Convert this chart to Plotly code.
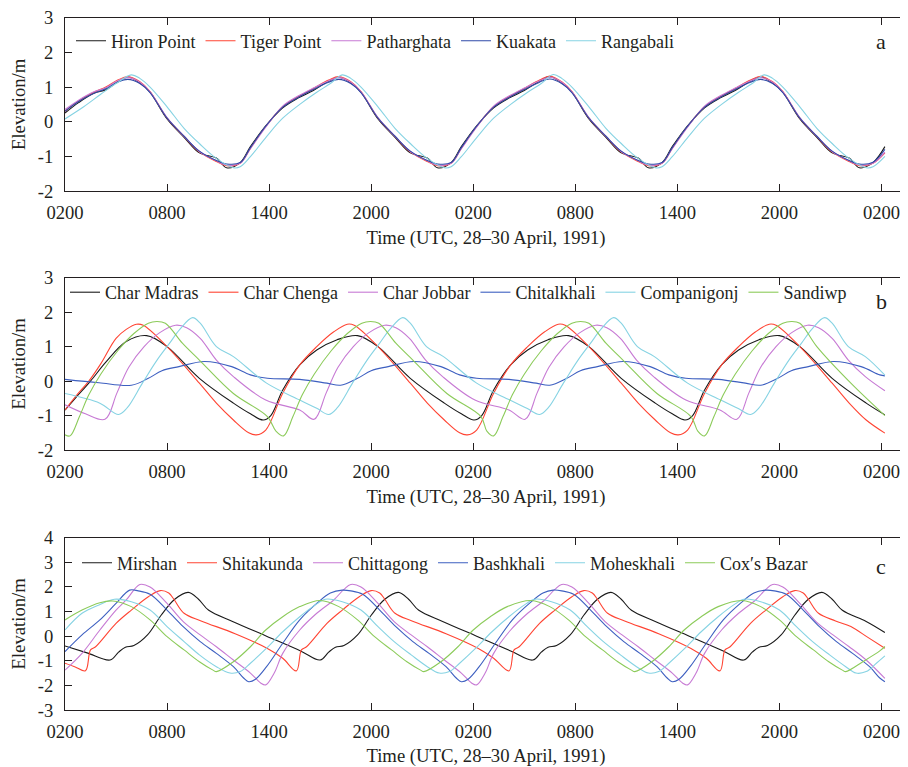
import plotly.graph_objects as go

# ---------------- data (time in hours after 02:00 UTC, 28 April 1991; elevation in m) ----------------
TICK_HOURS = [0, 6, 12, 18, 24, 30, 36, 42, 48]
TICK_TEXT = ["0200", "0800", "1400", "2000", "0200", "0800", "1400", "2000", "0200"]

# panel a — shared sampling times for four stations
T_A = [0, 0.8, 1.7, 2.4, 3.1, 3.7,
       4.4, 5.0, 6.0, 7.0, 7.9, 8.9, 9.5, 10.3, 10.9, 11.8, 12.8, 13.7, 14.6, 15.5, 16.1,
       16.8, 17.4, 18.4, 19.4, 20.3, 21.3, 21.9, 22.7, 23.3, 24.2, 25.2, 26.1, 27.0, 27.9, 28.5,
       29.2, 29.8, 30.8, 31.8, 32.7, 33.7, 34.3, 35.1, 35.7, 36.6, 37.6, 38.5, 39.4, 40.3, 40.9,
       41.6, 42.2, 43.2, 44.2, 45.1, 46.1, 46.7, 47.5, 48.2]
HIRON = [0.25, 0.55, 0.82, 0.92, 1.15, 1.28,
         1.12, 0.85, 0.08, -0.45, -0.9, -1.05, -1.33, -1.18, -0.72, -0.12, 0.4, 0.68, 0.9, 1.17, 1.28,
         1.12, 0.85, 0.08, -0.45, -0.9, -1.05, -1.33, -1.18, -0.72, -0.12, 0.4, 0.68, 0.9, 1.17, 1.3,
         1.12, 0.85, 0.08, -0.45, -0.9, -1.05, -1.33, -1.18, -0.72, -0.12, 0.4, 0.68, 0.9, 1.17, 1.29,
         1.12, 0.85, 0.08, -0.45, -0.9, -1.05, -1.33, -1.18, -0.72]
TIGER = [0.3, 0.6, 0.85, 1.0, 1.2, 1.3,
         1.15, 0.87, 0.1, -0.43, -0.87, -1.15, -1.27, -1.2, -0.77, -0.14, 0.43, 0.72, 0.96, 1.2, 1.3,
         1.15, 0.87, 0.1, -0.43, -0.87, -1.15, -1.27, -1.2, -0.77, -0.14, 0.43, 0.72, 0.96, 1.2, 1.32,
         1.15, 0.87, 0.1, -0.43, -0.87, -1.15, -1.27, -1.2, -0.77, -0.14, 0.43, 0.72, 0.96, 1.2, 1.31,
         1.15, 0.87, 0.1, -0.43, -0.87, -1.15, -1.27, -1.2, -0.9]
PATHARGHATA = [0.35, 0.62, 0.86, 0.98, 1.18, 1.27,
               1.14, 0.86, 0.12, -0.42, -0.86, -1.13, -1.25, -1.2, -0.78, -0.16, 0.45, 0.74, 0.97, 1.18, 1.27,
               1.14, 0.86, 0.12, -0.42, -0.86, -1.13, -1.25, -1.2, -0.78, -0.16, 0.45, 0.74, 0.97, 1.18, 1.28,
               1.14, 0.86, 0.12, -0.42, -0.86, -1.13, -1.25, -1.2, -0.78, -0.16, 0.45, 0.74, 0.97, 1.18, 1.27,
               1.14, 0.86, 0.12, -0.42, -0.86, -1.13, -1.25, -1.2, -0.88]
KUAKATA = [0.3, 0.58, 0.82, 0.95, 1.14, 1.22,
           1.1, 0.84, 0.1, -0.42, -0.85, -1.12, -1.22, -1.18, -0.75, -0.13, 0.42, 0.7, 0.93, 1.14, 1.22,
           1.1, 0.84, 0.1, -0.42, -0.85, -1.12, -1.22, -1.18, -0.75, -0.13, 0.42, 0.7, 0.93, 1.14, 1.23,
           1.1, 0.84, 0.1, -0.42, -0.85, -1.12, -1.22, -1.18, -0.75, -0.13, 0.42, 0.7, 0.93, 1.14, 1.22,
           1.1, 0.84, 0.1, -0.42, -0.85, -1.12, -1.22, -1.17, -0.8]
RANGABALI_T = [0, 1.1, 2.1, 3.0, 3.9,
               4.4, 5.0, 6.0, 7.0, 7.9, 8.9, 9.9, 10.3, 10.9, 11.85, 12.8, 13.8, 14.8, 15.6, 16.3,
               16.8, 17.4, 18.4, 19.4, 20.3, 21.3, 22.3, 22.7, 23.3, 24.25, 25.2, 26.2, 27.2, 28.0, 28.7,
               29.2, 29.8, 30.8, 31.8, 32.7, 33.7, 34.7, 35.1, 35.7, 36.65, 37.6, 38.6, 39.6, 40.4, 41.1,
               41.6, 42.2, 43.2, 44.2, 45.1, 46.1, 47.1, 47.5, 48.2]
RANGABALI = [0.08, 0.43, 0.79, 1.1, 1.35,
             1.25, 1.0, 0.43, -0.19, -0.63, -1.06, -1.33, -1.3, -1.01, -0.43, 0.1, 0.5, 0.85, 1.1, 1.35,
             1.25, 1.0, 0.43, -0.19, -0.63, -1.06, -1.33, -1.3, -1.01, -0.43, 0.1, 0.5, 0.85, 1.1, 1.36,
             1.25, 1.0, 0.43, -0.19, -0.63, -1.06, -1.33, -1.3, -1.01, -0.43, 0.1, 0.5, 0.85, 1.1, 1.35,
             1.25, 1.0, 0.43, -0.19, -0.63, -1.06, -1.33, -1.3, -1.0]

# panel b
MADRAS_T = [0, 0.6, 1.5, 2.4, 3.6, 4.8,
            6.0, 7.9, 9.9, 10.9, 11.65, 12.1, 12.8, 13.8, 14.8, 16.0, 17.2,
            18.4, 20.3, 22.3, 23.3, 24.05, 24.5, 25.2, 26.2, 27.2, 28.4, 29.6,
            30.8, 32.7, 34.7, 35.7, 36.45, 36.9, 37.6, 38.6, 39.6, 40.8, 42.0,
            43.2, 45.1, 47.1, 48.2]
MADRAS = [-0.84, -0.5, 0.0, 0.55, 1.15, 1.32,
          1.0, 0.08, -0.64, -0.95, -1.13, -1.0, -0.26, 0.47, 0.9, 1.2, 1.32,
          1.0, 0.08, -0.64, -0.95, -1.13, -1.0, -0.26, 0.47, 0.9, 1.2, 1.32,
          1.0, 0.08, -0.64, -0.95, -1.13, -1.0, -0.26, 0.47, 0.9, 1.2, 1.32,
          1.0, 0.08, -0.64, -0.98]
CHENGA_T = [0, 0.7, 1.4, 2.1, 3.0, 3.6, 4.2,
            4.6, 6.0, 7.9, 8.9, 9.9, 10.8, 11.25, 11.8, 12.8, 13.8, 14.8, 15.8, 16.6,
            17.0, 18.4, 20.3, 21.3, 22.3, 23.2, 23.65, 24.2, 25.2, 26.2, 27.2, 28.2, 29.0,
            29.4, 30.8, 32.7, 33.7, 34.7, 35.6, 36.05, 36.6, 37.6, 38.6, 39.6, 40.6, 41.4,
            41.8, 43.2, 45.1, 46.1, 47.1, 48.2]
CHENGA = [-0.84, -0.4, 0.0, 0.5, 1.24, 1.5, 1.65,
          1.62, 1.0, -0.06, -0.64, -1.13, -1.5, -1.56, -1.42, -0.35, 0.47, 1.0, 1.43, 1.65,
          1.62, 1.0, -0.06, -0.64, -1.13, -1.5, -1.56, -1.42, -0.35, 0.47, 1.0, 1.43, 1.65,
          1.62, 1.0, -0.06, -0.64, -1.13, -1.5, -1.56, -1.42, -0.35, 0.47, 1.0, 1.43, 1.65,
          1.62, 1.0, -0.06, -0.64, -1.13, -1.51]
JOBBAR_T = [0, 1.2,
            2.35, 3.05, 3.75, 4.65, 5.55, 6.5, 7.15, 7.95, 8.9, 9.9, 11.8, 13.8,
            14.65, 15.35, 16.05, 16.95, 17.85, 18.8, 19.45, 20.25, 21.2, 22.2, 24.1, 26.1,
            27.05, 27.75, 28.45, 29.35, 30.25, 31.2, 31.85, 32.65, 33.6, 34.6, 36.5, 38.5,
            39.5, 40.2, 40.9, 41.8, 42.7, 43.65, 44.3, 45.1, 46.05, 47.05, 48.2]
JOBBAR = [-0.69, -0.95,
          -1.11, -0.35, 0.4, 1.0, 1.4, 1.62, 1.55, 1.24, 0.61, 0.13, -0.55, -0.84,
          -1.11, -0.35, 0.4, 1.0, 1.4, 1.62, 1.55, 1.24, 0.61, 0.13, -0.55, -0.84,
          -1.11, -0.35, 0.4, 1.0, 1.4, 1.62, 1.55, 1.24, 0.61, 0.13, -0.55, -0.84,
          -1.11, -0.35, 0.4, 1.0, 1.4, 1.62, 1.55, 1.24, 0.61, 0.13, -0.28]
CHITAL_T = [0, 2.0,
            3.9, 4.9, 5.7, 6.7, 8.2, 9.8, 10.9, 11.9, 13.8, 15.4,
            16.2, 17.2, 18.0, 19.0, 20.5, 22.1, 23.2, 24.2, 26.1, 27.7,
            28.5, 29.5, 30.3, 31.3, 32.8, 34.4, 35.5, 36.5, 38.4, 40.0,
            40.9, 41.9, 42.7, 43.7, 45.2, 46.8, 47.9, 48.2]
CHITAL = [0.05, -0.05,
          -0.12, 0.08, 0.3, 0.42, 0.57, 0.42, 0.18, 0.08, 0.05, -0.06,
          -0.12, 0.08, 0.3, 0.42, 0.57, 0.42, 0.18, 0.08, 0.05, -0.06,
          -0.12, 0.08, 0.3, 0.42, 0.57, 0.42, 0.18, 0.08, 0.05, -0.06,
          -0.12, 0.08, 0.3, 0.42, 0.57, 0.42, 0.18, 0.15]
COMPANI_T = [0, 2.05,
             3.15, 3.65, 4.55, 5.4, 6.15, 6.75, 7.5, 7.95, 8.9, 9.9, 11.85, 13.8, 14.8,
             15.5, 16.0, 16.9, 17.75, 18.5, 19.1, 19.85, 20.3, 21.25, 22.25, 24.2, 26.15, 27.15,
             27.9, 28.4, 29.3, 30.15, 30.9, 31.5, 32.25, 32.7, 33.65, 34.65, 36.6, 38.55, 39.55,
             40.3, 40.8, 41.7, 42.55, 43.3, 43.9, 44.65, 45.1, 46.05, 47.05, 48.2]
COMPANI = [-0.36, -0.64,
           -0.97, -0.78, -0.06, 0.6, 1.1, 1.5, 1.84, 1.68, 1.0, 0.71, -0.06, -0.55, -0.79,
           -0.97, -0.78, -0.06, 0.6, 1.1, 1.5, 1.84, 1.68, 1.0, 0.71, -0.06, -0.55, -0.79,
           -0.97, -0.78, -0.06, 0.6, 1.1, 1.5, 1.84, 1.68, 1.0, 0.71, -0.06, -0.55, -0.79,
           -0.97, -0.78, -0.06, 0.6, 1.1, 1.5, 1.84, 1.68, 1.0, 0.71, 0.17]
SANDIWP_T = [0,
             0.3, 0.85, 1.4, 2.1, 3.1, 4.05, 4.9, 5.4, 5.9, 6.9, 7.9, 9.9, 11.9, 12.4,
             12.85, 13.4, 13.95, 14.65, 15.65, 16.6, 17.45, 17.95, 18.45, 19.45, 20.45, 22.45, 24.45, 24.8,
             25.2, 25.75, 26.3, 27.0, 28.0, 28.95, 29.8, 30.3, 30.8, 31.8, 32.8, 34.8, 36.8, 37.2,
             37.6, 38.15, 38.7, 39.4, 40.4, 41.35, 42.2, 42.7, 43.2, 44.2, 46.2, 48.2]
SANDIWP = [-1.56,
           -1.59, -1.03, -0.4, 0.2, 0.88, 1.38, 1.68, 1.73, 1.68, 1.1, 0.61, -0.36, -1.03, -1.45,
           -1.59, -1.03, -0.4, 0.2, 0.88, 1.38, 1.68, 1.73, 1.68, 1.1, 0.61, -0.36, -1.03, -1.45,
           -1.59, -1.03, -0.4, 0.2, 0.88, 1.38, 1.68, 1.73, 1.68, 1.1, 0.61, -0.36, -1.03, -1.45,
           -1.59, -1.03, -0.4, 0.2, 0.88, 1.38, 1.68, 1.73, 1.68, 1.0, -0.06, -1.0]

# panel c
MIRSHAN_T = [0, 1.3,
             2.65, 3.15, 3.55, 4.05, 4.85, 5.65, 6.45, 7.25, 7.85, 8.45, 9.85, 11.85, 13.85,
             15.0, 15.5, 15.9, 16.4, 17.2, 18.0, 18.8, 19.6, 20.2, 20.8, 22.2, 24.2, 26.2,
             27.5, 28.0, 28.4, 28.9, 29.7, 30.5, 31.3, 32.1, 32.7, 33.3, 34.7, 36.7, 38.7,
             39.9, 40.4, 40.8, 41.3, 42.1, 42.9, 43.7, 44.5, 45.1, 45.7, 47.1, 48.2]
MIRSHAN = [-0.4, -0.68,
           -0.97, -0.65, -0.45, -0.38, 0.05, 0.85, 1.5, 1.78, 1.5, 1.05, 0.6, 0.0, -0.6,
           -0.97, -0.65, -0.45, -0.38, 0.05, 0.85, 1.5, 1.78, 1.5, 1.05, 0.6, 0.0, -0.6,
           -0.97, -0.65, -0.45, -0.38, 0.05, 0.85, 1.5, 1.78, 1.5, 1.05, 0.6, 0.0, -0.6,
           -0.97, -0.65, -0.45, -0.38, 0.05, 0.85, 1.5, 1.78, 1.5, 1.05, 0.6, 0.15]
SHITAKUNDA_T = [0, 0.6,
                1.2, 1.5, 1.8, 3.0, 3.9, 4.9, 5.6, 6.1, 6.4, 7.0, 8.0, 10.0, 11.9, 12.8,
                13.6, 13.9, 14.2, 15.4, 16.3, 17.3, 18.0, 18.5, 18.8, 19.4, 20.4, 22.4, 24.3, 25.2,
                26.1, 26.4, 26.7, 27.9, 28.8, 29.8, 30.5, 31.0, 31.3, 31.9, 32.9, 34.9, 36.8, 37.7,
                38.5, 38.8, 39.1, 40.3, 41.2, 42.2, 42.9, 43.4, 43.7, 44.3, 45.3, 46.2, 47.2, 48.2]
SHITAKUNDA = [-1.1, -1.25,
              -1.41, -0.56, -0.43, 0.52, 1.06, 1.6, 1.85, 1.75, 1.5, 0.93, 0.62, 0.1, -0.5, -0.9,
              -1.41, -0.56, -0.43, 0.52, 1.06, 1.6, 1.85, 1.75, 1.5, 0.93, 0.62, 0.1, -0.5, -0.9,
              -1.41, -0.56, -0.43, 0.52, 1.06, 1.6, 1.85, 1.75, 1.5, 0.93, 0.62, 0.1, -0.5, -0.9,
              -1.41, -0.56, -0.43, 0.52, 1.06, 1.6, 1.85, 1.75, 1.5, 0.93, 0.62, 0.39, -0.05, -0.49]
CHITTAGONG_T = [0, 1.0, 2.05, 3.0, 3.6,
                4.4, 5.0, 6.0, 6.95, 7.95, 8.9, 9.9, 10.9, 11.5, 11.8, 12.3, 12.8, 13.8, 14.8, 15.8, 16.4,
                16.8, 17.4, 18.4, 19.35, 20.35, 21.3, 22.3, 23.3, 23.9, 24.2, 24.7, 25.2, 26.2, 27.2, 28.2, 28.8,
                29.2, 29.8, 30.8, 31.75, 32.75, 33.7, 34.7, 35.7, 36.3, 36.6, 37.1, 37.6, 38.6, 39.6, 40.6, 41.2,
                41.6, 42.2, 43.2, 44.15, 45.15, 46.1, 47.1, 48.2]
CHITTAGONG = [-1.38, -0.7, 0.25, 1.06, 1.47,
              2.1, 2.0, 1.33, 0.59, 0.05, -0.43, -0.97, -1.5, -1.9, -1.98, -1.5, -0.7, 0.25, 0.93, 1.47, 1.9,
              2.1, 2.0, 1.33, 0.59, 0.05, -0.43, -0.97, -1.5, -1.9, -1.98, -1.5, -0.7, 0.25, 0.93, 1.47, 1.9,
              2.1, 2.0, 1.33, 0.59, 0.05, -0.43, -0.97, -1.5, -1.9, -1.98, -1.5, -0.7, 0.25, 0.93, 1.47, 1.9,
              2.1, 2.0, 1.33, 0.59, 0.05, -0.43, -0.97, -1.72]
BASHKHALI_T = [0, 1.0, 2.05, 3.0,
               3.8, 4.3, 5.0, 6.0, 6.95, 7.95, 8.9, 9.9, 10.5, 10.8, 11.2, 11.85, 12.8, 13.8, 14.8, 15.6,
               16.3, 16.8, 17.5, 18.5, 19.45, 20.45, 21.4, 22.4, 23.0, 23.3, 23.7, 24.35, 25.3, 26.3, 27.3, 28.1,
               28.7, 29.2, 29.9, 30.9, 31.85, 32.85, 33.8, 34.8, 35.4, 35.7, 36.1, 36.75, 37.7, 38.7, 39.7, 40.5,
               41.2, 41.7, 42.4, 43.4, 44.35, 45.35, 46.3, 47.3, 47.9, 48.2]
BASHKHALI = [-0.63, 0.05, 0.66, 1.33,
             1.87, 1.84, 1.7, 1.06, 0.39, -0.22, -0.7, -1.24, -1.7, -1.85, -1.75, -1.24, -0.29, 0.66, 1.33, 1.75,
             1.87, 1.84, 1.7, 1.06, 0.39, -0.22, -0.7, -1.24, -1.7, -1.85, -1.75, -1.24, -0.29, 0.66, 1.33, 1.75,
             1.87, 1.84, 1.7, 1.06, 0.39, -0.22, -0.7, -1.24, -1.7, -1.85, -1.75, -1.24, -0.29, 0.66, 1.33, 1.75,
             1.87, 1.84, 1.7, 1.06, 0.39, -0.22, -0.7, -1.24, -1.7, -1.85]
MOHESKHALI_T = [0, 1.0, 2.0, 2.9, 3.9, 5.0, 6.0, 7.0, 7.9, 8.9,
                9.7, 10.3, 10.9, 11.85, 12.8, 13.8, 14.8, 15.3, 16.3, 17.4, 18.4, 19.35, 20.35, 21.3,
                22.0, 22.6, 23.2, 24.15, 25.1, 26.1, 27.1, 27.6, 28.6, 29.7, 30.7, 31.65, 32.65, 33.6,
                34.3, 34.9, 35.5, 36.45, 37.4, 38.4, 39.4, 39.9, 40.9, 42.0, 43.0, 43.95, 44.95, 45.9,
                46.5, 47.1, 47.7, 48.2]
MOHESKHALI = [0.25, 0.93, 1.27, 1.5, 1.4, 1.06, 0.39, -0.22, -0.76, -1.24,
              -1.5, -1.44, -1.1, -0.49, 0.18, 0.79, 1.31, 1.5, 1.4, 1.06, 0.39, -0.22, -0.76, -1.24,
              -1.5, -1.44, -1.1, -0.49, 0.18, 0.79, 1.31, 1.5, 1.4, 1.06, 0.39, -0.22, -0.76, -1.24,
              -1.5, -1.44, -1.1, -0.49, 0.18, 0.79, 1.31, 1.5, 1.4, 1.06, 0.39, -0.22, -0.76, -1.24,
              -1.5, -1.44, -1.1, -0.8]
COXS_T = [0, 1.0, 2.05, 2.8,
          3.9, 5.0, 6.0, 7.0, 7.9, 8.7, 8.9, 9.9, 10.9, 11.8, 12.8, 13.8, 15.0,
          16.1, 17.2, 18.2, 19.2, 20.1, 20.9, 21.1, 22.1, 23.1, 24.0, 25.0, 26.0, 27.4,
          28.5, 29.6, 30.6, 31.6, 32.5, 33.3, 33.5, 34.5, 35.5, 36.4, 37.4, 38.4, 39.8,
          40.9, 42.0, 43.0, 44.0, 44.9, 45.7, 45.9, 46.9, 47.9, 48.2]
COXS = [0.66, 1.06, 1.36, 1.43,
        1.2, 0.66, -0.02, -0.56, -1.04, -1.38, -1.44, -1.04, -0.43, 0.25, 0.79, 1.2, 1.45,
        1.2, 0.66, -0.02, -0.56, -1.04, -1.38, -1.44, -1.04, -0.43, 0.25, 0.79, 1.2, 1.45,
        1.2, 0.66, -0.02, -0.56, -1.04, -1.38, -1.44, -1.04, -0.43, 0.25, 0.79, 1.2, 1.45,
        1.2, 0.66, -0.02, -0.56, -1.04, -1.38, -1.44, -1.04, -0.6, -0.42]

# ---------------- styling ----------------
FONT = "Liberation Serif"
TXT = "#231f20"
BLACK = "#1a1a1a"
RED = "#ff4433"
PURPLE = "#c77ad4"
BLUE = "#3d5fc0"
NAVY = "#2f4aa8"
CYAN = "#86d3e3"
GREEN = "#8ccb5a"
TICK_SIZE = 18.6
TITLE_SIZE = 18.7
LEGEND_SIZE = 18

# the page body has an 8 px margin, so the figure is sized to fill the rest of the window
OFF = 8
W, H = 908 - OFF, 767 - OFF
ML = 65 - OFF
MR = W - (907 - OFF)
PW = W - ML - MR
PANELS = [(17.7 - OFF, 191.0 - OFF), (277.7 - OFF, 450.0 - OFF), (537.7 - OFF, 710.0 - OFF)]

fig = go.Figure()

series = [
    ("Hiron Point", T_A, HIRON, BLACK, 1, "legend"),
    ("Tiger Point", T_A, TIGER, RED, 1, "legend"),
    ("Patharghata", T_A, PATHARGHATA, PURPLE, 1, "legend"),
    ("Kuakata", T_A, KUAKATA, NAVY, 1, "legend"),
    ("Rangabali", RANGABALI_T, RANGABALI, CYAN, 1, "legend"),
    ("Char Madras", MADRAS_T, MADRAS, BLACK, 2, "legend2"),
    ("Char Chenga", CHENGA_T, CHENGA, RED, 2, "legend2"),
    ("Char Jobbar", JOBBAR_T, JOBBAR, PURPLE, 2, "legend2"),
    ("Chitalkhali", CHITAL_T, CHITAL, BLUE, 2, "legend2"),
    ("Companigonj", COMPANI_T, COMPANI, CYAN, 2, "legend2"),
    ("Sandiwp", SANDIWP_T, SANDIWP, GREEN, 2, "legend2"),
    ("Mirshan", MIRSHAN_T, MIRSHAN, BLACK, 3, "legend3"),
    ("Shitakunda", SHITAKUNDA_T, SHITAKUNDA, RED, 3, "legend3"),
    ("Chittagong", CHITTAGONG_T, CHITTAGONG, PURPLE, 3, "legend3"),
    ("Bashkhali", BASHKHALI_T, BASHKHALI, BLUE, 3, "legend3"),
    ("Moheskhali", MOHESKHALI_T, MOHESKHALI, CYAN, 3, "legend3"),
    ("Cox\u2032s Bazar", COXS_T, COXS, GREEN, 3, "legend3"),
]

for name, t, y, col, p, leg in series:
    sfx = "" if p == 1 else str(p)
    fig.add_trace(go.Scatter(
        x=t, y=y, name=name, mode="lines",
        line=dict(color=col, width=1.1, shape="spline", smoothing=1.0),
        xaxis="x" + sfx, yaxis="y" + sfx, legend=leg, hoverinfo="skip",
    ))

axis_common = dict(
    showline=True, linecolor=TXT, linewidth=1, mirror="ticks",
    ticks="inside", ticklen=7, tickwidth=1, tickcolor=TXT,
    showgrid=False, zeroline=False, automargin=False, ticklabeloverflow="allow",
    tickfont=dict(family=FONT, size=TICK_SIZE, color=TXT),
)

layout = dict(
    width=W, height=H, margin=dict(l=ML, r=MR, t=0, b=0, autoexpand=False),
    paper_bgcolor="white", plot_bgcolor="white",
    font=dict(family=FONT, size=18, color=TXT),
    showlegend=True,
)


def px_x(px):
    return (px - OFF - ML) / PW


yranges = [(-2, 3), (-2, 3), (-3, 4)]
legend_pos = [(77, 41), (69, 292.5), (83, 563)]   # screen px of first legend line start / row centre
label_pos = [41.7, 301.7, 566.7]
labels = ["a", "b", "c"]
annotations = []
for i, ((top, bot), (ylo, yhi)) in enumerate(zip(PANELS, yranges)):
    sfx = "" if i == 0 else str(i + 1)
    yv = list(range(ylo, yhi + 1))
    layout["xaxis" + sfx] = dict(
        axis_common, domain=[0, 1], anchor="y" + sfx,
        range=[0, 49.5], tickvals=TICK_HOURS, ticktext=TICK_TEXT,
        ticklabelstandoff=5,
        title=dict(text="Time (UTC, 28\u201330 April, 1991)",
                   font=dict(family=FONT, size=TITLE_SIZE, color=TXT), standoff=8),
    )
    layout["yaxis" + sfx] = dict(
        axis_common, domain=[1 - bot / H, 1 - top / H], anchor="x" + sfx,
        range=[ylo, yhi], tickvals=yv, ticktext=[str(v) for v in yv],
        ticklabelstandoff=7,
        title=dict(text="Elevation/m", font=dict(family=FONT, size=TITLE_SIZE, color=TXT), standoff=10),
    )
    lx, ly = legend_pos[i]
    layout["legend" if i == 0 else "legend" + str(i + 1)] = dict(
        orientation="h", x=max(0.0, px_x(lx - 6)), y=1 - (ly - OFF) / H,
        xanchor="left", yanchor="middle",
        bgcolor="rgba(0,0,0,0)", borderwidth=0,
        font=dict(family=FONT, size=LEGEND_SIZE, color=TXT), itemwidth=30, tracegroupgap=0,
    )
    annotations.append(dict(
        text=labels[i], xref="paper", yref="paper", x=px_x(881), y=1 - (label_pos[i] - OFF) / H,
        showarrow=False, font=dict(family=FONT, size=22, color=TXT),
        xanchor="center", yanchor="middle",
    ))
layout["annotations"] = annotations

fig.update_layout(**layout)
fig.write_html("out.html")
